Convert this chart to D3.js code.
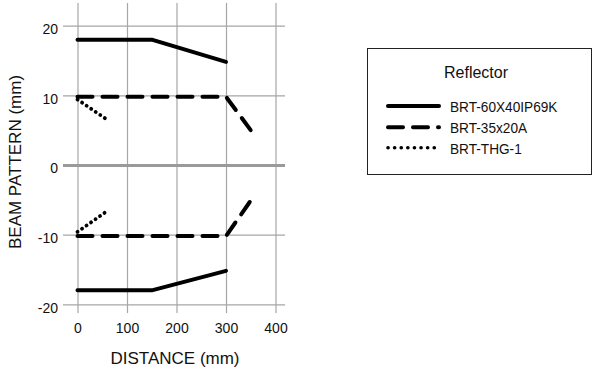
<!DOCTYPE html>
<html>
<head>
<meta charset="utf-8">
<script src="https://cdn.jsdelivr.net/npm/d3@7"></script>
<style>
  html, body { margin: 0; padding: 0; background: #fff; }
  svg { display: block; font-family: "Liberation Sans", Arial, sans-serif; }
</style>
</head>
<body>
<svg id="chart" width="594" height="370"></svg>
<script>
// ---- data ----
const seriesNames = ["BRT-60X40IP69K", "BRT-35x20A", "BRT-THG-1"];
const seriesStyles = ["solid", "dashed", "dotted"];
// each series has an upper and lower branch: [distance, beam]
const solidUpper = [[0, 18], [150, 18], [300, 14.8]];
const solidLower = [[0, -18], [150, -18], [300, -15.2]];
const dashedUpper = [[0, 9.8], [300, 9.8], [350, 5]];
const dashedLower = [[0, -10.2], [300, -10.2], [350, -5.1]];
const dottedUpper = [[0, 9.4], [60, 6.5]];
const dottedLower = [[0, -9.6], [60, -6.6]];
const xTicks = [0, 100, 200, 300, 400];
const yTicks = [-20, -10, 0, 10, 20];
const legendTitle = "Reflector";
const xTitle = "DISTANCE (mm)";
const yTitle = "BEAM PATTERN (mm)";

const series = [
  { name: seriesNames[0], style: seriesStyles[0], branches: [solidUpper, solidLower] },
  { name: seriesNames[1], style: seriesStyles[1], branches: [dashedUpper, dashedLower] },
  { name: seriesNames[2], style: seriesStyles[2], branches: [dottedUpper, dottedLower] }
];

const dash = { solid: null, dashed: "15,10", dotted: "0.1,5.4" };

const svg = d3.select("#chart");
const x = d3.scaleLinear().domain([0, 400]).range([77.5, 275.5]);
const y = d3.scaleLinear().domain([-20, 20]).range([304.3, 25.7]);

const gridColor = "#a6a6a6";
const plotLeft = 63, plotRight = 285, plotTop = 3, plotBottom = 313;
const fmt = d => String(d);

// vertical gridlines + x tick labels via axis
const xAxis = d3.axisBottom(x).tickValues(xTicks).tickFormat(fmt)
  .tickSize(-(plotBottom - plotTop)).tickSizeOuter(0).tickPadding(10);
const gx = svg.append("g").attr("transform", `translate(0,${plotBottom})`).call(xAxis);
gx.select(".domain").remove();
gx.selectAll(".tick line").attr("stroke", gridColor).attr("stroke-width", 1.2);
gx.selectAll(".tick text").attr("fill", "#111").attr("font-size", 14).attr("font-family", "Liberation Sans, Arial, sans-serif");

// horizontal gridlines + y tick labels
const yAxis = d3.axisLeft(y).tickValues(yTicks).tickFormat(fmt)
  .tickSize(-(plotRight - plotLeft)).tickSizeOuter(0).tickPadding(5);
const gy = svg.append("g").attr("transform", `translate(${plotLeft},0)`).call(yAxis);
gy.select(".domain").remove();
gy.selectAll(".tick line")
  .attr("stroke", d => d === 0 ? "#9a9a9a" : gridColor)
  .attr("stroke-width", d => d === 0 ? 3 : 1.2);
gy.selectAll(".tick text").attr("fill", "#111").attr("font-size", 14).attr("dy", "0.55em").attr("font-family", "Liberation Sans, Arial, sans-serif");

// lines
const line = d3.line().x(d => x(d[0])).y(d => y(d[1]));
const gl = svg.append("g");
series.forEach(s => {
  s.branches.forEach(b => {
    gl.append("path")
      .attr("d", line(b))
      .attr("fill", "none")
      .attr("stroke", "#000")
      .attr("stroke-width", s.style === "dotted" ? 3.8 : 4)
      .attr("stroke-linecap", "round")
      .attr("stroke-linejoin", "round")
      .attr("stroke-dasharray", dash[s.style]);
  });
});

// axis titles
svg.append("text").attr("x", 175).attr("y", 364).attr("text-anchor", "middle")
  .attr("font-size", 17).attr("fill", "#111").text(xTitle);
svg.append("text").attr("transform", "translate(21,162) rotate(-90)").attr("text-anchor", "middle")
  .attr("font-size", 17).attr("fill", "#111").text(yTitle);

// legend
const lg = svg.append("g");
lg.append("rect").attr("x", 367.5).attr("y", 48.5).attr("width", 224).attr("height", 126)
  .attr("fill", "#fff").attr("stroke", "#222").attr("stroke-width", 1);
lg.append("text").attr("x", 476).attr("y", 78).attr("text-anchor", "middle")
  .attr("font-size", 16).attr("fill", "#111").text(legendTitle);
const legY = [106, 127.3, 147.7];
series.forEach((s, i) => {
  lg.append("line").attr("x1", 388).attr("x2", 439).attr("y1", legY[i]).attr("y2", legY[i])
    .attr("stroke", "#000").attr("stroke-width", s.style === "dotted" ? 3.6 : 4)
    .attr("stroke-linecap", "round")
    .attr("stroke-dasharray", s.style === "dotted" ? "0.1,6.5" : dash[s.style]);
  lg.append("text").attr("x", 450).attr("y", legY[i] + 6)
    .attr("font-size", 15).attr("fill", "#111")
    .attr("transform", `translate(450,0) scale(0.91,1) translate(-450,0)`)
    .text(s.name);
});
</script>
</body>
</html>
